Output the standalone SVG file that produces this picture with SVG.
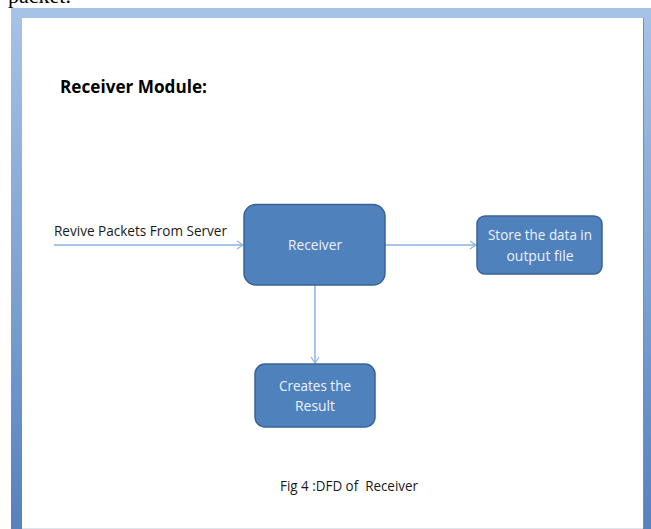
<svg xmlns="http://www.w3.org/2000/svg" width="651" height="529" viewBox="0 0 651 529">
<defs>
<linearGradient id="frameGrad" x1="0" y1="0" x2="0" y2="1">
<stop offset="0" stop-color="#a7c2e6"/>
<stop offset="0.5" stop-color="#7fa3d4"/>
<stop offset="1" stop-color="#5480bd"/>
</linearGradient>
<marker id="arr" markerWidth="10" markerHeight="10" refX="8" refY="5" orient="auto" markerUnits="userSpaceOnUse">
<path d="M2,1 L8,5 L2,9" fill="none" stroke="#8db3e2" stroke-width="1.2"/>
</marker>
<style>
.box{fill:#4f81bd;stroke:#3a6395;stroke-width:1.5}
.bt{font-family:"Open Sans","Liberation Sans",sans-serif;font-size:15px;fill:#eef3fa;text-anchor:middle}
.lbl{font-family:"Open Sans","Liberation Sans",sans-serif;font-size:14.5px;fill:#1a1a1a}
.conn{stroke:#8db3e2;stroke-width:1.5;fill:none}
</style>
</defs>
<rect width="651" height="529" fill="#ffffff"/>
<text x="8" y="3" font-family="Liberation Serif, serif" font-size="22" fill="#000">packet.</text>
<rect x="11" y="8" width="645" height="530" fill="url(#frameGrad)"/>
<rect x="22" y="18" width="621" height="510" fill="#ffffff"/>
<line x1="643.5" y1="18" x2="643.5" y2="528" stroke="#6f8fb8" stroke-width="1"/>
<line x1="22" y1="528.5" x2="643" y2="528.5" stroke="#dfe5ec" stroke-width="1"/>
<text x="60" y="93" font-family="Open Sans, Liberation Sans, sans-serif" font-size="18" font-weight="bold" fill="#000" textLength="147" lengthAdjust="spacingAndGlyphs">Receiver Module:</text>
<g id="connectors">
<line class="conn" x1="54" y1="245" x2="243" y2="245" marker-end="url(#arr)"/>
<line class="conn" x1="385" y1="245" x2="476" y2="245" marker-end="url(#arr)"/>
<line class="conn" x1="315" y1="285" x2="315" y2="363" marker-end="url(#arr)"/>
</g>
<g id="label-input">
<text class="lbl" x="54" y="236" textLength="173" lengthAdjust="spacingAndGlyphs">Revive Packets From Server</text>
</g>
<g id="receiver">
<rect class="box" x="244" y="204.5" width="141" height="80.5" rx="12"/>
<text class="bt" x="315" y="250" textLength="54" lengthAdjust="spacingAndGlyphs">Receiver</text>
</g>
<g id="store">
<rect class="box" x="477" y="216" width="125" height="58" rx="8"/>
<text class="bt" x="540" y="240" textLength="104" lengthAdjust="spacingAndGlyphs">Store the data in</text>
<text class="bt" x="540" y="261" textLength="67" lengthAdjust="spacingAndGlyphs">output file</text>
</g>
<g id="creates">
<rect class="box" x="255" y="364" width="120" height="63" rx="10"/>
<text class="bt" x="315" y="391" textLength="72" lengthAdjust="spacingAndGlyphs">Creates the</text>
<text class="bt" x="315" y="411" textLength="40" lengthAdjust="spacingAndGlyphs">Result</text>
</g>
<text x="280" y="491" font-family="Open Sans, Liberation Sans, sans-serif" font-size="14" fill="#1a1a1a" textLength="138" lengthAdjust="spacingAndGlyphs" xml:space="preserve">Fig 4 :DFD of  Receiver</text>
</svg>
